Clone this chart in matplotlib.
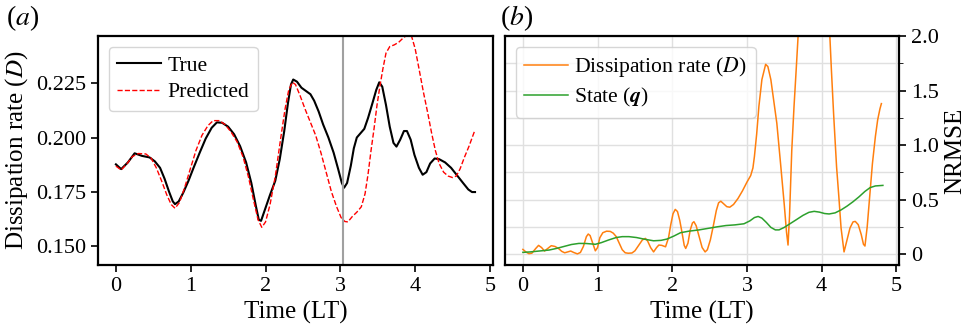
import numpy as np
import matplotlib
matplotlib.use("Agg")
import matplotlib.pyplot as plt
from matplotlib.ticker import MultipleLocator, FuncFormatter

plt.rcParams["font.family"] = "serif"
plt.rcParams["font.serif"] = ["Liberation Serif", "DejaVu Serif"]
plt.rcParams["mathtext.fontset"] = "stix"

# panel (a): dissipation rate, true vs predicted
t_true = [0.00, 0.07, 0.16, 0.25, 0.35, 0.45, 0.52, 0.59, 0.65, 0.71, 0.76, 0.79, 0.84, 0.90, 0.97, 1.04,
          1.12, 1.20, 1.28, 1.35, 1.42, 1.50, 1.58, 1.66, 1.74, 1.81, 1.87, 1.91, 1.94, 1.99, 2.06,
          2.13, 2.19, 2.25, 2.30, 2.34, 2.37, 2.42, 2.48, 2.54, 2.60, 2.65, 2.71, 2.77, 2.84, 2.91,
          2.97, 3.02, 3.05, 3.09, 3.14, 3.18, 3.22, 3.27, 3.32, 3.37, 3.43, 3.48, 3.52, 3.56, 3.61,
          3.66, 3.71, 3.75, 3.80, 3.85, 3.89, 3.94, 3.99, 4.05, 4.10, 4.15, 4.20, 4.26, 4.32, 4.40,
          4.48, 4.56, 4.64, 4.71, 4.76, 4.80]
d_true = [0.1876, 0.1854, 0.1885, 0.1927, 0.1915, 0.1908, 0.1890, 0.1860, 0.1810, 0.1750, 0.1705, 0.1692,
          0.1705, 0.1745, 0.1800, 0.1862, 0.1930, 0.1995, 0.2045, 0.2070, 0.2068, 0.2050, 0.2015, 0.1960,
          0.1885, 0.1790, 0.1685, 0.1620, 0.1615, 0.1665, 0.1735, 0.1800, 0.1900, 0.2030, 0.2160, 0.2245,
          0.2268, 0.2258, 0.2230, 0.2215, 0.2200, 0.2170, 0.2120, 0.2060, 0.2000, 0.1930, 0.1855, 0.1790,
          0.1768, 0.1790, 0.1870, 0.1950, 0.2000, 0.2020, 0.2040, 0.2090, 0.2160, 0.2220, 0.2255, 0.2235,
          0.2150, 0.2050, 0.1975, 0.1958, 0.1990, 0.2030, 0.2030, 0.1990, 0.1920, 0.1860, 0.1828, 0.1840,
          0.1880, 0.1903, 0.1900, 0.1885, 0.1860, 0.1825, 0.1790, 0.1760, 0.1748, 0.1748]

t_pred = [0.00, 0.07, 0.15, 0.22, 0.30, 0.40, 0.47, 0.54, 0.61, 0.68, 0.74, 0.79, 0.85, 0.92, 0.99, 1.07,
          1.15, 1.23, 1.30, 1.38, 1.46, 1.54, 1.62, 1.70, 1.77, 1.84, 1.90, 1.95, 2.00, 2.06, 2.13,
          2.20, 2.26, 2.31, 2.36, 2.40, 2.46, 2.53, 2.60, 2.67, 2.74, 2.81, 2.88, 2.95, 3.01, 3.06,
          3.10, 3.16, 3.22, 3.28, 3.33, 3.37, 3.41, 3.45, 3.49, 3.53, 3.57, 3.61, 3.66, 3.72, 3.78,
          3.84, 3.90, 3.95, 4.00, 4.05, 4.11, 4.17, 4.22, 4.27, 4.32, 4.38, 4.44, 4.50, 4.55, 4.60,
          4.66, 4.72, 4.79]
d_pred = [0.1868, 0.1850, 0.1880, 0.1912, 0.1926, 0.1924, 0.1905, 0.1860, 0.1800, 0.1735, 0.1690, 0.1673,
          0.1700, 0.1770, 0.1850, 0.1940, 0.2010, 0.2055, 0.2078, 0.2078, 0.2060, 0.2025, 0.1980, 0.1910,
          0.1820, 0.1710, 0.1620, 0.1585, 0.1610, 0.1690, 0.1820, 0.1990, 0.2130, 0.2220, 0.2255, 0.2245,
          0.2195, 0.2130, 0.2070, 0.2010, 0.1930, 0.1840, 0.1750, 0.1680, 0.1630, 0.1612, 0.1610, 0.1635,
          0.1655, 0.1680, 0.1740, 0.1830, 0.1940, 0.2040, 0.2150, 0.2240, 0.2320, 0.2390, 0.2420, 0.2428,
          0.2440, 0.2460, 0.2475, 0.2470, 0.2410, 0.2320, 0.2210, 0.2110, 0.2020, 0.1940, 0.1880, 0.1840,
          0.1822, 0.1815, 0.1822, 0.1855, 0.1910, 0.1960, 0.2026]

t_split = 3.03

# panel (b): NRMSE
t_err_d = [0.00, 0.04, 0.08, 0.12, 0.17, 0.21, 0.25, 0.29, 0.33, 0.38, 0.43, 0.48, 0.52, 0.56, 0.60, 0.64,
           0.68, 0.73, 0.77, 0.81, 0.85, 0.875, 0.90, 0.94, 0.97, 1.00, 1.03, 1.07, 1.12, 1.17, 1.21,
           1.25, 1.29, 1.33, 1.37, 1.41, 1.46, 1.50, 1.55, 1.60, 1.64, 1.67, 1.71, 1.75, 1.79, 1.82,
           1.86, 1.91, 1.95, 1.98, 2.01, 2.04, 2.07, 2.10, 2.13, 2.16, 2.18, 2.21, 2.24, 2.27, 2.29,
           2.32, 2.36, 2.40, 2.44, 2.47, 2.51, 2.55, 2.59, 2.62, 2.65, 2.69, 2.73, 2.77, 2.82, 2.88,
           2.94, 3.00, 3.05, 3.08, 3.10, 3.13, 3.16, 3.20, 3.25, 3.28, 3.32, 3.36, 3.40, 3.45, 3.50,
           3.53, 3.55, 3.57, 3.60, 3.63, 3.66, 3.69, 3.75, 3.82, 3.90, 3.98, 4.05, 4.106, 4.13, 4.16,
           4.20, 4.23, 4.26, 4.30, 4.34, 4.38, 4.42, 4.45, 4.49, 4.53, 4.56, 4.58, 4.61, 4.64, 4.68,
           4.72, 4.75, 4.78, 4.80]
e_d = [0.043, 0.020, 0.004, 0.008, 0.050, 0.080, 0.060, 0.028, 0.050, 0.077, 0.070, 0.050, 0.025, 0.012,
       0.020, 0.028, 0.015, 0.002, 0.015, 0.070, 0.160, 0.184, 0.170, 0.090, 0.030, 0.060, 0.150, 0.196,
       0.210, 0.208, 0.192, 0.160, 0.100, 0.040, 0.012, 0.008, 0.010, 0.030, 0.080, 0.130, 0.144, 0.120,
       0.060, 0.020, 0.060, 0.083, 0.080, 0.067, 0.150, 0.270, 0.370, 0.410, 0.390, 0.310, 0.200, 0.080,
       0.052, 0.100, 0.220, 0.285, 0.297, 0.260, 0.160, 0.060, 0.020, 0.040, 0.130, 0.260, 0.400, 0.470,
       0.485, 0.460, 0.435, 0.430, 0.455, 0.510, 0.580, 0.660, 0.720, 0.790, 0.895, 1.100, 1.355, 1.600,
       1.740, 1.720, 1.600, 1.400, 1.200, 0.830, 0.450, 0.200, 0.083, 0.350, 0.950, 1.350, 1.700, 2.060,
       2.500, 2.850, 3.000, 2.850, 2.500, 2.060, 1.700, 1.290, 0.800, 0.530, 0.240, 0.020, 0.130, 0.240,
       0.295, 0.300, 0.270, 0.180, 0.090, 0.074, 0.250, 0.500, 0.830, 1.080, 1.230, 1.330, 1.380]

t_err_q = [0.00, 0.10, 0.20, 0.35, 0.45, 0.55, 0.65, 0.75, 0.85, 0.97, 1.05, 1.15, 1.25, 1.33, 1.42, 1.52,
           1.64, 1.75, 1.85, 1.93, 2.02, 2.11, 2.22, 2.36, 2.48, 2.60, 2.72, 2.84, 2.96, 3.04, 3.10,
           3.15, 3.20, 3.26, 3.32, 3.38, 3.43, 3.50, 3.58, 3.66, 3.75, 3.83, 3.90, 3.97, 4.04, 4.10,
           4.18, 4.26, 4.34, 4.42, 4.50, 4.58, 4.65, 4.72, 4.82]
e_q = [0.016, 0.020, 0.027, 0.037, 0.052, 0.070, 0.088, 0.098, 0.097, 0.090, 0.105, 0.130, 0.152, 0.160,
       0.160, 0.152, 0.135, 0.122, 0.126, 0.138, 0.165, 0.196, 0.210, 0.222, 0.236, 0.250, 0.262, 0.268,
       0.278, 0.305, 0.335, 0.345, 0.330, 0.290, 0.245, 0.222, 0.222, 0.245, 0.280, 0.315, 0.355, 0.383,
       0.392, 0.385, 0.372, 0.368, 0.378, 0.405, 0.440, 0.480, 0.525, 0.575, 0.610, 0.625, 0.630]

fig = plt.figure(figsize=(9.67, 3.33), dpi=100)
ax1 = fig.add_axes([0.1013, 0.2042, 0.4085, 0.6877])
ax2 = fig.add_axes([0.5222, 0.2042, 0.4078, 0.6877])

# (a)
ax1.plot(t_true, d_true, color="black", lw=1.5, label="True")
ax1.plot(t_pred, d_pred, color="red", lw=1.0, ls="--", label="Predicted")
ax1.axvline(t_split, color="#a0a0a0", lw=1.5)
ax1.set_xlim(-0.24, 5.04)
ax1.set_ylim(0.1411, 0.2469)
ax1.set_yticks([0.150, 0.175, 0.200, 0.225])
ax1.set_xticks([0, 1, 2, 3, 4, 5])
ax1.set_xlabel("Time (LT)", fontsize=18)
ax1.set_ylabel("Dissipation rate ($D$)", fontsize=18)
ax1.tick_params(labelsize=16, width=1.2, length=5)
for s in ax1.spines.values():
    s.set_linewidth(1.6)
ax1.legend(loc="upper left", fontsize=15.6, handlelength=2.0, handletextpad=0.3,
           borderpad=0.4, labelspacing=0.3)
fig.text(0.006, 0.945, "($a$)", fontsize=20, va="center")

# (b)
ax2.plot(t_err_d, e_d, color="#ff7f0e", lw=1.1, label="Dissipation rate ($D$)")
ax2.plot(t_err_q, e_q, color="#2ca02c", lw=1.1, label=r"State ($\boldsymbol{q}$)")
ax2.set_xlim(-0.24, 5.04)
ax2.set_ylim(-0.1, 2.0)
ax2.set_xticks([0, 1, 2, 3, 4, 5])
ax2.yaxis.tick_right()
ax2.yaxis.set_label_position("right")
ax2.yaxis.set_major_locator(MultipleLocator(0.5))
ax2.yaxis.set_minor_locator(MultipleLocator(0.25))
ax2.yaxis.set_major_formatter(FuncFormatter(lambda v, p: "0" if abs(v) < 1e-9 else f"{v:.1f}"))
ax2.grid(True, which="major", color="#e0e0e0", lw=1.0)
ax2.grid(True, which="minor", axis="y", color="#e0e0e0", lw=1.0)
ax2.set_axisbelow(True)
ax2.set_xlabel("Time (LT)", fontsize=18)
ax2.set_ylabel("NRMSE", fontsize=18)
ax2.tick_params(labelsize=16, width=1.2, length=5)
ax2.tick_params(which="minor", length=3)
for s in ax2.spines.values():
    s.set_linewidth(1.6)
ax2.legend(loc="upper left", fontsize=15.6, handlelength=2.0, handletextpad=0.3,
           borderpad=0.4, labelspacing=0.3)
fig.text(0.517, 0.945, "($b$)", fontsize=20, va="center")

fig.savefig("out.png", dpi=100)
